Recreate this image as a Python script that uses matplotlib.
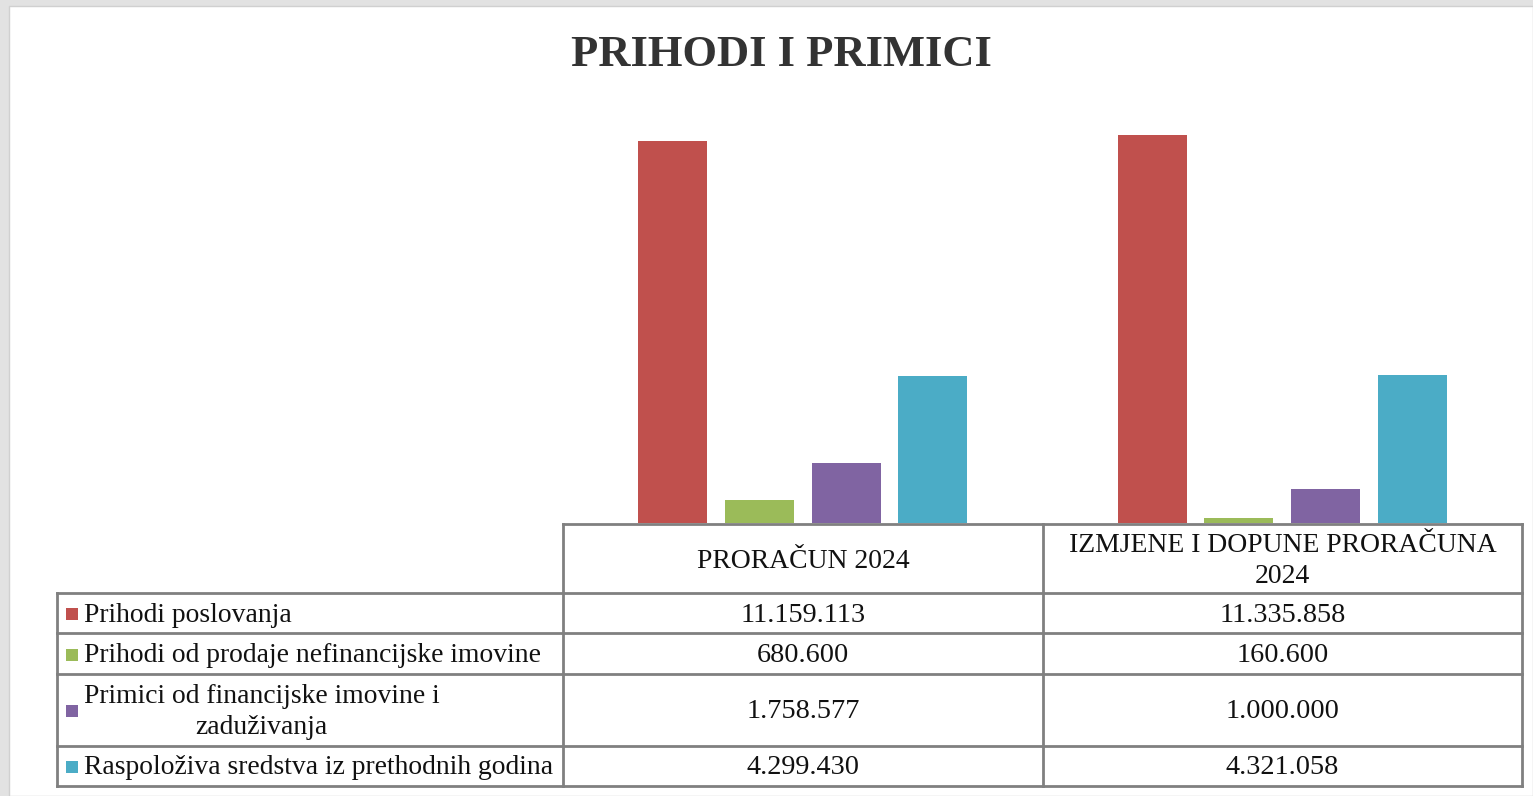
import matplotlib.pyplot as plt
from matplotlib.lines import Line2D
from matplotlib.patches import Rectangle
import numpy as np

plt.rcParams['font.family'] = ['Liberation Serif', 'DejaVu Serif']

# ── Data ──
categories = ["PRORAČUN 2024", "IZMJENE I DOPUNE PRORAČUNA\n2024"]
series     = ["Prihodi poslovanja",
              "Prihodi od prodaje nefinancijske imovine",
              "Primici od financijske imovine i\nzaduživanja",
              "Raspoloživa sredstva iz prethodnih godina"]
proracun   = [11159113, 680600, 1758577, 4299430]
izmjene    = [11335858, 160600, 1000000, 4321058]
colors     = ["#C0504D", "#9BBB59", "#8064A2", "#4BACC6"]

W, H = 1533, 796
fig = plt.figure(figsize=(W / 100, H / 100), dpi=100)
fig.patch.set_facecolor("#e2e2e2")


def fx(x):
    return x / W


def fy(y):
    return 1 - y / H


# white page (behind everything)
fig.add_artist(Rectangle((fx(9), 0), 1 - fx(9), fy(6), transform=fig.transFigure,
                         facecolor="white", edgecolor="#d0d0d0", lw=1, zorder=-5))

# ── Bars ──
ax = fig.add_axes([fx(563), fy(523), fx(1522) - fx(563), fy(100) - fy(523)])
ax.set_zorder(2)
ax.set_facecolor("none")
x = np.arange(len(categories))
width = 0.144
step = 0.181
for i, name in enumerate(series):
    vals = [proracun[i], izmjene[i]]
    ax.bar(x + (i - 1.5) * step, vals, width=width, color=colors[i])
ax.set_xlim(-0.5, 1.5)
ax.set_ylim(0, 12360000)
ax.axis("off")

fig.text(fx(781), fy(55), "PRIHODI I PRIMICI", ha="center", va="center",
         fontsize=32, fontweight="bold", color="#333333")

# ── Data table ──
line_kw = dict(transform=fig.transFigure, color="#808080", lw=2)
col_x = [57, 563, 1043, 1522]
row_y = [593, 633, 674, 746, 786]
fig.add_artist(Line2D([fx(563), fx(1522)], [fy(524), fy(524)], **line_kw))
for yy in row_y:
    fig.add_artist(Line2D([fx(57), fx(1522)], [fy(yy), fy(yy)], **line_kw))
fig.add_artist(Line2D([fx(57), fx(57)], [fy(593), fy(786)], **line_kw))
for xx in col_x[1:]:
    fig.add_artist(Line2D([fx(xx), fx(xx)], [fy(524), fy(786)], **line_kw))

fs_lab = 19.9
fs_num = 20.3
col_c = [(col_x[1] + col_x[2]) / 2, (col_x[2] + col_x[3]) / 2]
for j, cat in enumerate(categories):
    fig.text(fx(col_c[j]), fy(561), cat, ha="center", va="center",
             fontsize=fs_lab, linespacing=1.3, color="#111111")

for i, name in enumerate(series):
    yc = (row_y[i] + row_y[i + 1]) / 2
    fig.add_artist(Rectangle((fx(66), fy(yc + 7)), fx(12), 12 / H,
                             transform=fig.transFigure, facecolor=colors[i],
                             edgecolor="none"))
    fig.text(fx(84), fy(yc + 2), name, ha="left", va="center", fontsize=fs_lab,
             multialignment="center", linespacing=1.3, color="#111111")
    for j, vals in enumerate([proracun, izmjene]):
        fig.text(fx(col_c[j]), fy(yc + 2), f"{vals[i]:,}".replace(",", "."),
                 ha="center", va="center", fontsize=fs_num, color="#111111")

fig.savefig("out.png", dpi=100, facecolor=fig.get_facecolor())
